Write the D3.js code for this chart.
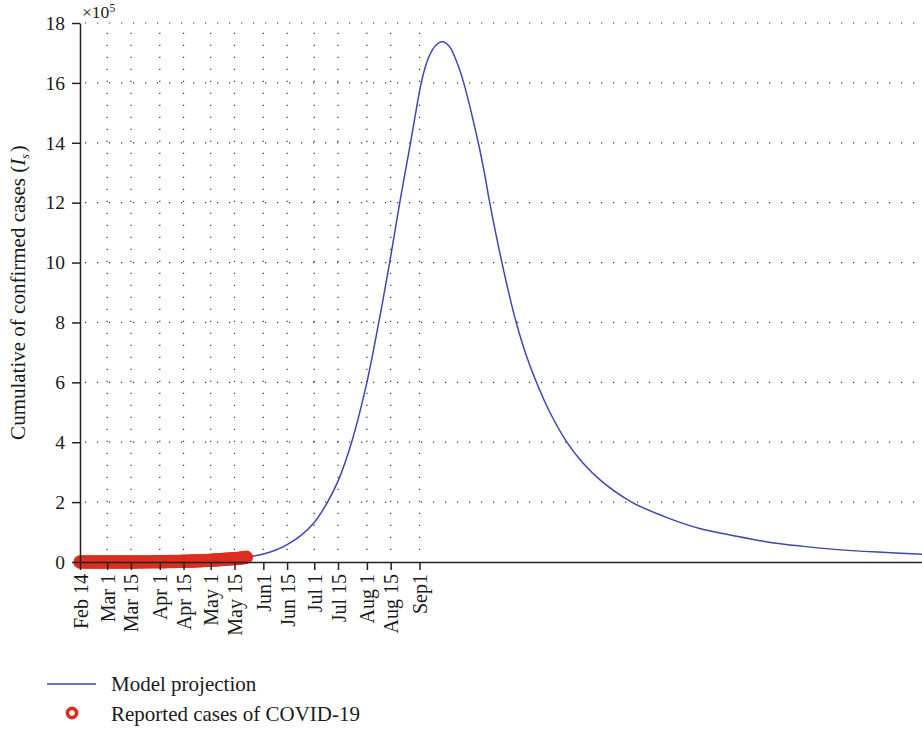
<!DOCTYPE html>
<html>
<head>
<meta charset="utf-8">
<script src="https://cdn.jsdelivr.net/npm/d3@7"></script>
<style>
  html, body { margin: 0; padding: 0; background: #fff; }
  svg { display: block; font-family: "Liberation Serif", "Times New Roman", serif; }
</style>
</head>
<body>
<svg id="chart" width="922" height="731"></svg>
<script>
// Reported cumulative cases, one value per day starting 14 Feb 2020
const startDate = "2020-02-14";
const reportedCases = [
  // Feb 14 - Feb 29
  1,1,1,1,1,1,1,1,1,1,1,1,1,1,1,1,
  // Mar 1 - Mar 31
  2,2,2,2,3,15,48,49,55,59,67,80,93,110,126,166,196,196,256,285,294,327,366,402,456,495,536,576,609,656,710,
  // Apr 1 - Apr 30
  779,865,985,1070,1173,1322,1450,1560,1699,1794,1939,2065,2190,2350,2505,2673,2844,3032,3144,3333,
  3490,3659,3891,4092,4319,4534,4782,5042,5268,5537,
  // May 1 - May 22
  5895,6193,6465,6813,7201,7588,7981,8476,8964,9400,9746,10093,10431,10829,11228,11719,12229,12764,
  13484,14229,15003,15786
];

// Model projection: day offset from the start date and value in units of 10^5
const modelDays = [0, 30, 60, 90, 100, 108, 115, 122, 130, 138, 145, 152, 160, 169, 176, 182.4, 188.2,
  194.7, 197.9, 201, 203.5, 206, 209.5, 213.4, 217.5, 221.6, 225, 228.4, 231.8, 235.2, 238.2, 241.2,
  244.9, 248.6, 252.7, 257, 263, 269.6, 277, 286.3, 296, 307, 325, 345, 365, 385, 404, 425, 443, 470, 496];
const modelValues = [0.00, 0.01, 0.04, 0.12, 0.18, 0.265, 0.39, 0.58, 0.88, 1.32, 1.92, 2.70, 4.00, 6.00,
  8.00, 10.00, 11.95, 14.00, 15.05, 16.00, 16.55, 16.93, 17.25, 17.37, 17.22, 16.75, 16.20, 15.50, 14.70,
  13.85, 13.00, 12.05, 10.98, 9.98, 8.96, 7.99, 6.88, 5.90, 4.975, 4.045, 3.32, 2.71, 2.00, 1.50, 1.12,
  0.88, 0.68, 0.53, 0.43, 0.33, 0.26];

// Axis ticks
const xTickDates = ["2020-02-14","2020-03-01","2020-03-15","2020-04-01","2020-04-15","2020-05-01","2020-05-15",
  "2020-06-01","2020-06-15","2020-07-01","2020-07-15","2020-08-01","2020-08-15","2020-09-01"];
const xTickLabels = ["Feb 14","Mar 1","Mar 15","Apr 1","Apr 15","May 1","May 15",
  "Jun1","Jun 15","Jul 1","Jul 15","Aug 1","Aug 15","Sep1"];
const yTicks = [0, 2, 4, 6, 8, 10, 12, 14, 16, 18];
const yScaleUnit = 1e5;
const lastDay = 496;

const legendLabels = ["Model projection", "Reported cases of COVID-19"];
const lineColor = "#3d46b4";
const dotColor = "#dc2e1f";

const dayMs = 864e5;
const t0 = new Date(startDate + "T00:00:00Z").getTime();
const dayToDate = d => new Date(t0 + d * dayMs);

const svg = d3.select("#chart");
const plotLeft = 80, plotRight = 922, plotTop = 23, plotBottom = 562;

const x = d3.scaleUtc().domain([dayToDate(0), dayToDate(lastDay)]).range([plotLeft, plotRight]);
const y = d3.scaleLinear().domain([0, 18]).range([plotBottom, plotTop]);

const tickDates = xTickDates.map(s => new Date(s + "T00:00:00Z"));

// Dotted grid
const grid = svg.append("g").attr("stroke", "#333").attr("stroke-width", 1.2)
  .attr("stroke-dasharray", "1.2 10.8").attr("fill", "none");
grid.selectAll("line.h").data(yTicks.filter(v => v > 0)).join("line")
  .attr("class", "h")
  .attr("x1", plotLeft + 5).attr("x2", plotRight)
  .attr("y1", d => y(d)).attr("y2", d => y(d));
grid.selectAll("line.v").data(tickDates.slice(1)).join("line")
  .attr("class", "v")
  .attr("x1", d => x(d)).attr("x2", d => x(d))
  .attr("y1", plotBottom - 12).attr("y2", plotTop);

// Model projection line
const line = d3.line()
  .x((d, i) => x(dayToDate(modelDays[i])))
  .y(d => y(d))
  .curve(d3.curveCatmullRom.alpha(0.5));
svg.append("path")
  .datum(modelValues)
  .attr("fill", "none")
  .attr("stroke", lineColor)
  .attr("stroke-width", 1.5)
  .attr("d", line);

// Reported cases
svg.append("g").selectAll("circle").data(reportedCases).join("circle")
  .attr("cx", (d, i) => x(dayToDate(i)))
  .attr("cy", d => y(d / yScaleUnit))
  .attr("r", 4.7)
  .attr("fill", "none")
  .attr("stroke", dotColor)
  .attr("stroke-width", 4);

// X axis
const xAxis = d3.axisBottom(x)
  .tickValues(tickDates)
  .tickFormat((d, i) => xTickLabels[i])
  .tickSize(8)
  .tickSizeOuter(0);
const gx = svg.append("g").attr("transform", `translate(0,${plotBottom})`).call(xAxis);
gx.select(".domain").attr("stroke", "#222").attr("stroke-width", 1.5);
gx.selectAll(".tick line").attr("stroke", "#222").attr("stroke-width", 1.5);
gx.selectAll(".tick text")
  .attr("transform", "rotate(-90)")
  .attr("x", -12).attr("y", 0).attr("dy", "0.35em")
  .style("text-anchor", "end")
  .style("font-size", "20px")
  .style("font-family", "'Liberation Serif', serif")
  .attr("fill", "#1a1a1a");

// Y axis
const yAxis = d3.axisLeft(y)
  .tickValues(yTicks)
  .tickFormat(d3.format("d"))
  .tickSize(8)
  .tickPadding(7)
  .tickSizeOuter(0);
const gy = svg.append("g").attr("transform", `translate(${plotLeft},0)`).call(yAxis);
gy.select(".domain").attr("stroke", "#222").attr("stroke-width", 1.5);
gy.selectAll(".tick line").attr("stroke", "#222").attr("stroke-width", 1.5);
gy.selectAll(".tick text")
  .style("font-size", "19.5px")
  .style("font-family", "'Liberation Serif', serif")
  .attr("fill", "#1a1a1a");

// Exponent marker
const expo = svg.append("text").attr("x", plotLeft + 2).attr("y", 18)
  .attr("fill", "#1a1a1a").style("font-size", "17.5px");
expo.append("tspan").text("×10");
expo.append("tspan").attr("dy", -6).style("font-size", "11.5px").text("5");

// Y axis title
const yTitle = svg.append("text")
  .attr("transform", `translate(25,${(plotTop + plotBottom) / 2}) rotate(-90)`)
  .attr("text-anchor", "middle")
  .attr("fill", "#1a1a1a")
  .style("font-size", "21px");
yTitle.append("tspan").text("Cumulative of confirmed cases (");
yTitle.append("tspan").style("font-style", "italic").text("I");
yTitle.append("tspan").attr("dy", 4).style("font-size", "12px").style("font-style", "italic").text("s");
yTitle.append("tspan").attr("dy", -4).attr("dx", 2).text(")");

// Legend
const legend = svg.append("g");
legend.append("line")
  .attr("x1", 47).attr("x2", 96).attr("y1", 684).attr("y2", 684)
  .attr("stroke", lineColor).attr("stroke-width", 1.5);
legend.append("circle")
  .attr("cx", 72).attr("cy", 713).attr("r", 4.6)
  .attr("fill", "none").attr("stroke", dotColor).attr("stroke-width", 3.6);
legend.selectAll("text").data(legendLabels).join("text")
  .attr("x", 111).attr("y", (d, i) => 691 + i * 30)
  .attr("fill", "#1a1a1a")
  .style("font-size", "21px")
  .text(d => d);
</script>
</body>
</html>
